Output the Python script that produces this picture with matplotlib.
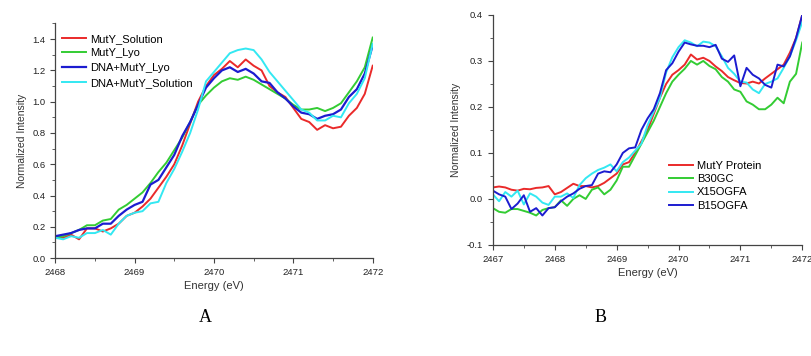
import matplotlib
matplotlib.use('Agg')
import matplotlib.pyplot as plt
from matplotlib.ticker import MultipleLocator

plt.rcParams['font.family'] = ['Liberation Sans', 'DejaVu Sans']
plt.rcParams['axes.unicode_minus'] = False

# ---- panel A data (step 0.1 eV) ----
energy_a = [2468.0, 2468.1, 2468.2, 2468.3, 2468.4, 2468.5, 2468.6, 2468.7, 2468.8, 2468.9,
            2469.0, 2469.1, 2469.2, 2469.3, 2469.4, 2469.5, 2469.6, 2469.7, 2469.8, 2469.9,
            2470.0, 2470.1, 2470.2, 2470.3, 2470.4, 2470.5, 2470.6, 2470.7, 2470.8, 2470.9,
            2471.0, 2471.1, 2471.2, 2471.3, 2471.4, 2471.5, 2471.6, 2471.7, 2471.8, 2471.9,
            2472.0]
muty_solution = [0.14, 0.13, 0.15, 0.12, 0.19, 0.19, 0.17, 0.19, 0.22, 0.27,
                 0.29, 0.33, 0.38, 0.45, 0.52, 0.60, 0.72, 0.86, 1.00, 1.10,
                 1.17, 1.21, 1.26, 1.22, 1.27, 1.23, 1.20, 1.10, 1.06, 1.03,
                 0.96, 0.89, 0.87, 0.82, 0.85, 0.83, 0.84, 0.91, 0.96, 1.05,
                 1.23]
muty_lyo = [0.13, 0.14, 0.16, 0.18, 0.21, 0.21, 0.24, 0.25, 0.31, 0.34,
            0.38, 0.42, 0.48, 0.55, 0.61, 0.69, 0.77, 0.87, 0.98, 1.04,
            1.09, 1.13, 1.15, 1.14, 1.16, 1.14, 1.11, 1.08, 1.05, 1.02,
            0.98, 0.95, 0.95, 0.96, 0.94, 0.96, 0.99, 1.06, 1.13, 1.22,
            1.41]
dna_muty_lyo = [0.14, 0.15, 0.16, 0.18, 0.19, 0.19, 0.22, 0.22, 0.27, 0.31,
                0.34, 0.36, 0.47, 0.50, 0.58, 0.66, 0.78, 0.87, 0.98, 1.09,
                1.15, 1.20, 1.22, 1.19, 1.21, 1.18, 1.13, 1.12, 1.06, 1.02,
                0.97, 0.93, 0.92, 0.89, 0.91, 0.92, 0.95, 1.03, 1.08, 1.18,
                1.36]
dna_muty_solution = [0.13, 0.12, 0.14, 0.13, 0.16, 0.16, 0.18, 0.15, 0.22, 0.27,
                     0.29, 0.30, 0.35, 0.36, 0.48, 0.57, 0.68, 0.80, 0.95, 1.13,
                     1.19, 1.25, 1.31, 1.33, 1.34, 1.33, 1.27, 1.19, 1.13, 1.07,
                     1.01, 0.95, 0.93, 0.88, 0.88, 0.91, 0.90, 0.99, 1.05, 1.15,
                     1.37]

# ---- panel B data (step 0.1 eV) ----
energy_b = [2467.0, 2467.1, 2467.2, 2467.3, 2467.4, 2467.5, 2467.6, 2467.7, 2467.8, 2467.9,
            2468.0, 2468.1, 2468.2, 2468.3, 2468.4, 2468.5, 2468.6, 2468.7, 2468.8, 2468.9,
            2469.0, 2469.1, 2469.2, 2469.3, 2469.4, 2469.5, 2469.6, 2469.7, 2469.8, 2469.9,
            2470.0, 2470.1, 2470.2, 2470.3, 2470.4, 2470.5, 2470.6, 2470.7, 2470.8, 2470.9,
            2471.0, 2471.1, 2471.2, 2471.3, 2471.4, 2471.5, 2471.6, 2471.7, 2471.8, 2471.9,
            2472.0]
muty_protein = [0.025, 0.027, 0.025, 0.020, 0.018, 0.022, 0.021, 0.024, 0.025, 0.028,
                0.010, 0.015, 0.024, 0.033, 0.028, 0.028, 0.025, 0.028, 0.035, 0.045,
                0.055, 0.075, 0.080, 0.100, 0.125, 0.150, 0.185, 0.220, 0.250, 0.270,
                0.280, 0.292, 0.314, 0.303, 0.307, 0.300, 0.288, 0.278, 0.265, 0.258,
                0.252, 0.251, 0.255, 0.251, 0.262, 0.272, 0.282, 0.292, 0.318, 0.350,
                0.400]
b30gc = [-0.020, -0.028, -0.030, -0.022, -0.022, -0.026, -0.030, -0.036, -0.024, -0.020,
         -0.018, -0.003, -0.015, 0.000, 0.008, 0.000, 0.020, 0.025, 0.010, 0.020,
         0.040, 0.070, 0.070, 0.095, 0.120, 0.145, 0.170, 0.200, 0.230, 0.255,
         0.270, 0.283, 0.300, 0.292, 0.300, 0.289, 0.282, 0.265, 0.255, 0.238,
         0.233, 0.212, 0.205, 0.195, 0.195, 0.205, 0.220, 0.208, 0.255, 0.272,
         0.340]
x15ogfa = [0.010, -0.005, 0.015, 0.005, 0.018, -0.012, 0.012, 0.005, -0.008, -0.013,
           0.005, 0.005, 0.012, 0.002, 0.030, 0.045, 0.055, 0.063, 0.068, 0.075,
           0.060, 0.080, 0.090, 0.105, 0.120, 0.160, 0.190, 0.220, 0.275, 0.308,
           0.330, 0.345, 0.340, 0.332, 0.342, 0.340, 0.332, 0.310, 0.285, 0.272,
           0.255, 0.253, 0.238, 0.230, 0.250, 0.255, 0.262, 0.285, 0.310, 0.345,
           0.385]
b15ogfa = [0.018, 0.010, 0.005, -0.022, -0.010, 0.008, -0.028, -0.020, -0.036, -0.020,
           -0.018, -0.005, 0.005, 0.012, 0.022, 0.028, 0.030, 0.055, 0.060, 0.058,
           0.075, 0.100, 0.110, 0.112, 0.150, 0.175, 0.195, 0.230, 0.280, 0.295,
           0.320, 0.340, 0.336, 0.333, 0.333, 0.330, 0.335, 0.305, 0.298, 0.312,
           0.245, 0.285, 0.270, 0.262, 0.248, 0.242, 0.292, 0.288, 0.310, 0.350,
           0.400]

RED = '#ea2a2a'
GREEN = '#33cc33'
BLUE = '#1c1cd0'
CYAN = '#33e8f2'

fig = plt.figure(figsize=(8.12, 3.56), dpi=100)
ax1 = fig.add_axes([0.068, 0.275, 0.391, 0.659])
ax2 = fig.add_axes([0.607, 0.312, 0.381, 0.646])


def style_axes(ax):
    for side in ['top', 'right']:
        ax.spines[side].set_visible(False)
    for side in ['left', 'bottom']:
        ax.spines[side].set_color('#444444')
        ax.spines[side].set_linewidth(0.9)
    ax.tick_params(which='both', direction='out', colors='#444444', labelsize=6.8,
                   labelcolor='#222222')
    ax.tick_params(which='major', length=3.5)
    ax.tick_params(which='minor', length=2)


# panel A
ax1.plot(energy_a, muty_solution, color=RED, lw=1.4, label='MutY_Solution')
ax1.plot(energy_a, muty_lyo, color=GREEN, lw=1.4, label='MutY_Lyo')
ax1.plot(energy_a, dna_muty_lyo, color=BLUE, lw=1.6, label='DNA+MutY_Lyo')
ax1.plot(energy_a, dna_muty_solution, color=CYAN, lw=1.4, label='DNA+MutY_Solution')
ax1.set_xlim(2468, 2472)
ax1.set_ylim(0, 1.5)
ax1.set_xticks([2468, 2469, 2470, 2471, 2472])
ax1.set_xticklabels(['2468', '2469', '2470', '2471', '2472'])
ax1.xaxis.set_minor_locator(MultipleLocator(0.5))
ax1.set_yticks([0.0, 0.2, 0.4, 0.6, 0.8, 1.0, 1.2, 1.4])
ax1.yaxis.set_minor_locator(MultipleLocator(0.1))
style_axes(ax1)
ax1.set_xlabel('Energy (eV)', fontsize=8, color='#333333', labelpad=3)
ax1.set_ylabel('Normalized Intensity', fontsize=7.5, color='#333333', labelpad=4)
ax1.legend(loc='upper left', bbox_to_anchor=(0.0, 0.985), frameon=False, fontsize=8,
           handlelength=2.2, handletextpad=0.3, labelspacing=0.42, borderaxespad=0.2)

# panel B
ax2.plot(energy_b, muty_protein, color=RED, lw=1.4, label='MutY Protein')
ax2.plot(energy_b, b30gc, color=GREEN, lw=1.4, label='B30GC')
ax2.plot(energy_b, x15ogfa, color=CYAN, lw=1.4, label='X15OGFA')
ax2.plot(energy_b, b15ogfa, color=BLUE, lw=1.4, label='B15OGFA')
ax2.set_xlim(2467, 2472)
ax2.set_ylim(-0.1, 0.4)
ax2.set_xticks([2467, 2468, 2469, 2470, 2471, 2472])
ax2.set_xticklabels(['2467', '2468', '2469', '2470', '2471', '2472'])
ax2.xaxis.set_minor_locator(MultipleLocator(0.5))
ax2.set_yticks([-0.1, 0.0, 0.1, 0.2, 0.3, 0.4])
ax2.yaxis.set_minor_locator(MultipleLocator(0.05))
style_axes(ax2)
ax2.set_xlabel('Energy (eV)', fontsize=8, color='#333333', labelpad=3)
ax2.set_ylabel('Normalized Intensity', fontsize=7.5, color='#333333', labelpad=4)
ax2.legend(loc='upper left', bbox_to_anchor=(0.555, 0.385), frameon=False, fontsize=8,
           handlelength=2.2, handletextpad=0.3, labelspacing=0.3, borderaxespad=0.0)

# panel letters
fig.text(205 / 812, 1 - 318 / 356, 'A', fontsize=13, family='Liberation Serif',
         ha='center', va='center')
fig.text(601 / 812, 1 - 318 / 356, 'B', fontsize=13, family='Liberation Serif',
         ha='center', va='center')

fig.savefig('out.png', dpi=100)
